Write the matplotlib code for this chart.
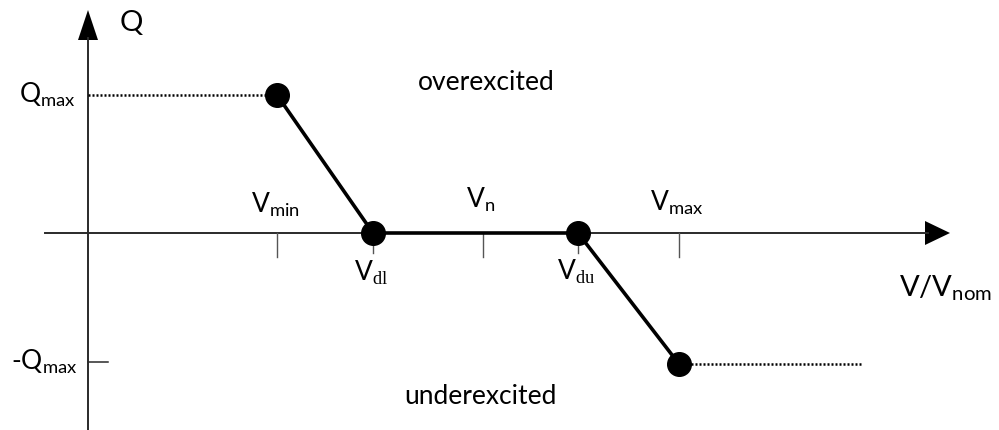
import numpy as np
import matplotlib.pyplot as plt

plt.rcParams['font.family'] = ['Lato', 'DejaVu Sans']
plt.rcParams['mathtext.fontset'] = 'custom'
plt.rcParams['mathtext.rm'] = 'Lato'
plt.rcParams['mathtext.sf'] = 'Liberation Serif'

# droop curve Q(V), units (origin = axes crossing)
curve_v = [189, 285, 490, 591]
curve_q = [138, 0, 0, -131]
q_max = 138
q_min = -131
dot_end = 774

tick_v = [189, 285, 395, 490, 591]
tick_len = [24, 20, 24, 20, 24]
tick_names = [r"$\mathregular{V_{min}}$", r"$\mathregular{V}_{\mathsf{dl}}$",
              r"$\mathregular{V_{n}}$", r"$\mathregular{V}_{\mathsf{du}}$",
              r"$\mathregular{V_{max}}$"]
# label y: above axis for min/n/max, below for dl/du
tick_label_y = [28, -40, 33, -39, 30]

fig = plt.figure(figsize=(9.99, 4.30), dpi=100)
ax = fig.add_axes([0, 0, 1, 1])
ax.set_xlim(-88, 911)
ax.set_ylim(-197, 233)
ax.axis("off")

AX = "#2a2a2a"
# axes
ax.plot([-43, 840], [0, 0], color=AX, lw=1.4)
ax.plot([0, 0], [-197, 195], color=AX, lw=1.4)
ax.fill([837, 837, 862], [-12, 12, 0], color="black", lw=0)
ax.fill([-10, 10, 0], [193, 193, 223], color="black", lw=0)

# ticks on V axis
for v, l in zip(tick_v, tick_len):
    ax.plot([v, v], [0, -l], color="#555555", lw=1.0)
# -Qmax tick
ax.plot([0, 20], [q_min + 2, q_min + 2], color=AX, lw=1.1)

# dotted limits
ax.plot([0, curve_v[0]], [q_max, q_max], color="black", lw=1.8, ls=(0, (0.8, 0.8)))
ax.plot([curve_v[-1], dot_end], [q_min, q_min], color="black", lw=1.8, ls=(0, (0.8, 0.8)))

# curve
ax.plot(curve_v, curve_q, color="black", lw=2.6, marker="o", ms=17,
        markerfacecolor="black", zorder=3)

fs = 19
for v, name, ly in zip(tick_v, tick_names, tick_label_y):
    ax.text(v - 2, ly, name, fontsize=fs, ha="center", va="center")

ax.text(32, 210, "Q", fontsize=21, ha="left", va="center")
ax.text(-12, q_max, r"$\mathregular{Q_{max}}$", fontsize=fs, ha="right", va="center")
ax.text(-10, q_min + 2, r"-$\mathregular{Q_{max}}$", fontsize=fs, ha="right", va="center")
ax.text(398, 150, "overexcited", fontsize=fs, ha="center", va="center")
ax.text(392, -164, "underexcited", fontsize=fs, ha="center", va="center")
ax.text(858, -55, r"$\mathregular{V/V_{nom}}$", fontsize=21, ha="center", va="center")

fig.savefig("out.png", dpi=100)
